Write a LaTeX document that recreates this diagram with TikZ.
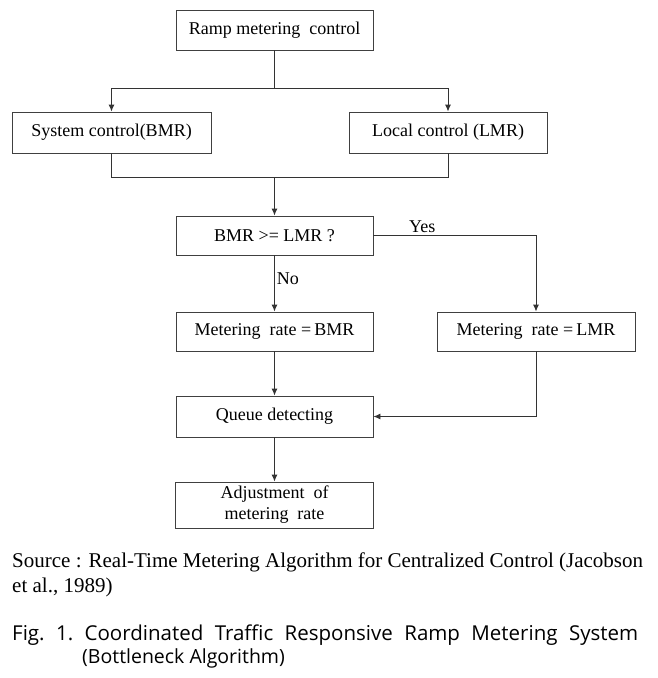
\documentclass[tikz,border=0pt]{standalone}
\usepackage{fontspec}
\setmainfont{Liberation Serif}
\newfontfamily\srcfont{Liberation Serif}
\newfontfamily\capfont{Open Sans}
\usetikzlibrary{arrows.meta}

\begin{document}
\begin{tikzpicture}[x=1pt, y=-1pt, >={Latex[length=7pt,width=6pt]},
  box/.style={draw=black!75, line width=0.9pt, minimum width=197pt, minimum height=40pt,
    inner sep=0pt, align=center, font=\fontsize{18}{21}\selectfont},
  line/.style={draw=black!80, line width=0.9pt},
  lbl/.style={font=\fontsize{18}{21}\selectfont, inner sep=2pt}]

\useasboundingbox (0,0) rectangle (658,678);

% flow chart boxes
\path
(274.5,30) node[box](ramp) {Ramp metering\ \ control}
(111.5,132.5) node[box, minimum width=199pt, minimum height=41pt](system) {System control(BMR)}
(448,132.5) node[box, minimum width=198pt, minimum height=41pt](local) {Local control (LMR)}
(274.5,235.5) node[box, minimum height=39pt](compare) {BMR >= LMR ?}
(274.5,331.5) node[box, minimum height=39pt](bmrrate) {Metering\ \ rate =\,BMR}
(536,331.5) node[box, minimum width=198pt, minimum height=39pt](lmrrate) {Metering\ \ rate =\,LMR}
(274.5,416.5) node[box, minimum height=41pt](queue) {Queue detecting}
(274.5,505) node[box, minimum width=198pt, minimum height=46pt](adjust) {Adjustment\ \ of\\metering\ \ rate};

\coordinate (split) at (274.5,88);
\coordinate (merge) at (274.5,177);

%% split into the two controls
\draw[line] (ramp) -- (split);
\draw[line,->] (split) -| (system);
\draw[line,->] (split) -| (local);

%% merge back
\draw[line] (system) |- (merge);
\draw[line] (local) |- (merge);
\draw[line,->] (merge) -- (compare);

%% decision
\draw[line,->] (compare.east) -| node[pos=0.15, above, lbl] {Yes} (lmrrate.north);
\draw[line,->] (compare) -- node[pos=0.42, right, lbl] {No} (bmrrate);
\draw[line,->] (bmrrate) -- (queue);
\draw[line,->] (lmrrate.south) |- (queue.east);
\draw[line,->] (queue) -- (adjust);

% source and caption
\path
(12,567) node[anchor=base west, inner sep=0pt, font=\srcfont\fontsize{21}{25}\selectfont](source)
  {Source : Real-Time Metering Algorithm for Centralized Control (Jacobson}
(12,592) node[anchor=base west, inner sep=0pt, font=\srcfont\fontsize{21}{25}\selectfont](sourceyear)
  {et al., 1989)}
(12,640) node[anchor=base west, inner sep=0pt, font=\capfont\fontsize{20.5}{23}\selectfont](fig)
  {\frenchspacing\makebox[626pt][s]{Fig. 1. Coordinated Traffic Responsive Ramp Metering System}}
(82,663) node[anchor=base west, inner sep=0pt, font=\capfont\fontsize{19.5}{23}\selectfont](figtwo)
  {(Bottleneck Algorithm)};

\end{tikzpicture}
\end{document}
